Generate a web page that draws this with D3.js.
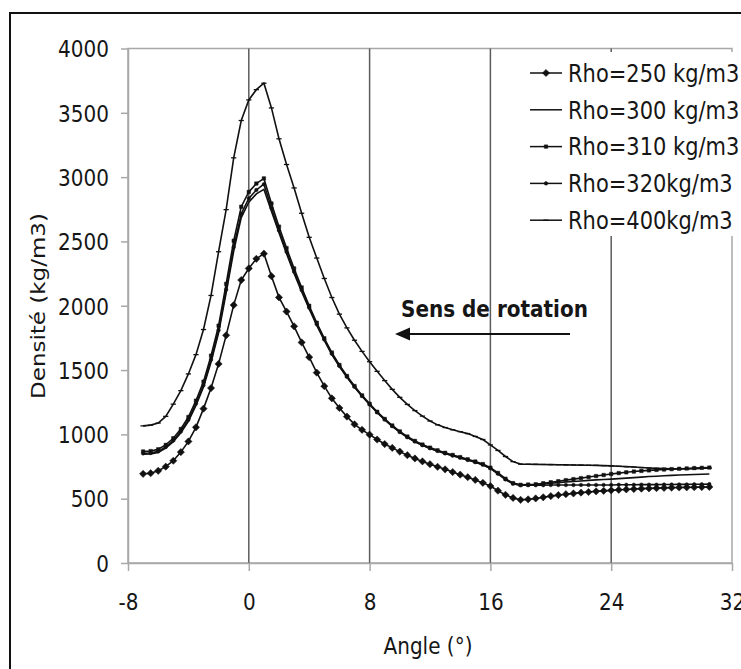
<!DOCTYPE html>
<html>
<head>
<meta charset="utf-8">
<script src="https://cdn.jsdelivr.net/npm/d3@7"></script>
<style>
  body { margin: 0; background: #fff; }
  text { font-family: "DejaVu Sans", Verdana, sans-serif; fill: #161616; }
</style>
</head>
<body>
<div id="chart"></div>
<script>
// ----------------------
// Data (one value every 0.5 degree from -7 to 30.5)
// ----------------------
const angles = d3.range(-7, 30.51, 0.5);

const rho250 = [693, 698, 717, 749, 795, 862, 945, 1055, 1200, 1360, 1548, 1770, 2005, 2200, 2290, 2365, 2405,
  2230, 2065, 1955, 1840, 1715, 1600, 1480, 1375, 1280, 1205, 1138, 1078, 1035, 998, 960, 925, 895, 866, 838,
  813, 790, 768, 748, 728, 707, 687, 667, 646, 623, 598, 562, 530, 506, 491, 495,
  502, 511, 520, 528, 535, 541, 547, 552, 557, 561, 565, 569, 572, 575, 578, 580, 582, 584, 586, 587, 588, 589, 590, 591];

const rho300 = [845, 848, 860, 893, 943, 1012, 1102, 1225, 1368, 1563, 1790, 2100, 2425, 2685, 2805, 2870, 2905,
  2735, 2568, 2405, 2252, 2110, 1975, 1848, 1730, 1621, 1527, 1444, 1367, 1296, 1232, 1170, 1114, 1063, 1017, 977,
  943, 915, 891, 870, 851, 834, 817, 800, 783, 763, 735, 693, 649, 616, 605, 607,
  610, 615, 620, 625, 630, 634, 638, 642, 646, 649, 652, 656, 660, 664, 668, 672, 675, 678, 681, 684, 686, 688, 690, 692];

const rho310 = [867, 870, 884, 918, 970, 1042, 1135, 1262, 1410, 1612, 1845, 2170, 2505, 2770, 2885, 2950, 2990,
  2795, 2615, 2448, 2290, 2142, 2000, 1868, 1747, 1636, 1540, 1454, 1376, 1303, 1238, 1176, 1120, 1069, 1023, 983,
  949, 921, 897, 876, 857, 840, 823, 806, 789, 769, 741, 700, 655, 621, 608, 610,
  612, 620, 628, 636, 644, 652, 660, 668, 676, 684, 692, 699, 705, 711, 716, 720, 724, 727, 730, 733, 735, 738, 740, 742];

const rho320 = [852, 855, 868, 902, 952, 1022, 1114, 1238, 1382, 1580, 1810, 2125, 2455, 2715, 2835, 2900, 2945,
  2760, 2585, 2420, 2265, 2122, 1985, 1856, 1737, 1627, 1532, 1448, 1370, 1298, 1233, 1171, 1115, 1064, 1018, 978,
  944, 916, 892, 871, 852, 835, 818, 801, 784, 764, 736, 694, 650, 616, 604, 605,
  605, 605, 606, 606, 606, 606, 607, 607, 607, 607, 607, 608, 608, 608, 609, 609, 609, 610, 610, 611, 611, 612, 612, 613];

const rho400 = [1066, 1072, 1088, 1140, 1235, 1340, 1470, 1620, 1815, 2080, 2420, 2747, 3150, 3440, 3600, 3680, 3730,
  3538, 3298, 3098, 2916, 2719, 2532, 2371, 2212, 2064, 1935, 1828, 1732, 1645, 1565, 1490, 1418, 1350, 1288, 1233,
  1185, 1142, 1104, 1074, 1053, 1036, 1021, 1006, 984, 960, 918, 875, 828, 788, 769, 768,
  767, 766, 765, 764, 763, 762, 761, 760, 759, 757, 755, 752, 749, 746, 742, 739, 736, 734, 732, 731, 732, 734, 736, 738];

const seriesNames = ["Rho=250 kg/m3", "Rho=300 kg/m3", "Rho=310 kg/m3", "Rho=320kg/m3", "Rho=400kg/m3"];
const seriesMarkers = ["diamond", "none", "square", "dot", "dash"];
const seriesValues = [rho250, rho300, rho310, rho320, rho400];

const xTicks = [-8, 0, 8, 16, 24, 32];
const xGrid = [0, 8, 16, 24];
const yTicks = [0, 500, 1000, 1500, 2000, 2500, 3000, 3500, 4000];

// ----------------------
// Setup
// ----------------------
const width = 741, height = 669;
const plot = { left: 128, right: 732, top: 48.5, bottom: 563 };
const stretch = 1.15; // the picture's text is a little taller than wide

const svg = d3.select("#chart")
    .append("svg")
    .attr("width", width)
    .attr("height", height);

const x = d3.scaleLinear().domain([-8, 32]).range([plot.left, plot.right]);
const y = d3.scaleLinear().domain([0, 4000]).range([plot.bottom, plot.top]);

// plain "-8" / "4000" labels, no thousands separator
const plainFormat = d => String(d);

// outer chart border
svg.append("rect")
    .attr("x", 10).attr("y", 13)
    .attr("width", 780).attr("height", 700)
    .attr("fill", "none")
    .attr("stroke", "#111")
    .attr("stroke-width", 2);

// plot frame
svg.append("rect")
    .attr("x", plot.left).attr("y", plot.top)
    .attr("width", plot.right - plot.left)
    .attr("height", plot.bottom - plot.top)
    .attr("fill", "none")
    .attr("stroke", "#a8a8a8")
    .attr("stroke-width", 1.5);

// vertical grid lines
svg.append("g")
    .selectAll("line")
    .data(xGrid)
    .join("line")
    .attr("x1", d => x(d)).attr("x2", d => x(d))
    .attr("y1", plot.top).attr("y2", plot.bottom)
    .attr("stroke", "#5c5c5c")
    .attr("stroke-width", 1.5);

// ----------------------
// Axes
// ----------------------
const yAxis = svg.append("g")
    .attr("transform", `translate(${plot.left},0)`)
    .call(d3.axisLeft(y).tickValues(yTicks).tickFormat(plainFormat).tickSize(7).tickSizeOuter(0));

yAxis.selectAll("text")
    .attr("x", 0)
    .attr("dy", "0.36em")
    .attr("transform", `translate(-19,0) scale(1,${stretch})`)
    .style("font-size", "20px");

const xAxis = svg.append("g")
    .attr("transform", `translate(0,${plot.bottom})`)
    .call(d3.axisBottom(x).tickValues(xTicks).tickFormat(plainFormat).tickSize(8).tickSizeOuter(0));

xAxis.selectAll("text")
    .attr("y", 0)
    .attr("dy", "0.36em")
    .attr("transform", `translate(0,39) scale(1,${stretch})`)
    .style("font-size", "20px");

svg.selectAll(".domain").attr("stroke", "#a8a8a8").attr("stroke-width", 1.5);
svg.selectAll(".tick line").attr("stroke", "#a8a8a8").attr("stroke-width", 1.5);
svg.selectAll(".tick text").attr("fill", "#161616").attr("font-family", null);

// axis titles
svg.append("text")
    .attr("text-anchor", "middle")
    .attr("dy", "0.36em")
    .attr("transform", `translate(428,646) scale(1,${stretch})`)
    .style("font-size", "20px")
    .text("Angle (°)");

svg.append("text")
    .attr("text-anchor", "middle")
    .attr("dy", "0.36em")
    .attr("transform", `translate(38,306) rotate(-90) scale(${stretch},1)`)
    .style("font-size", "20px")
    .text("Densité (kg/m3)");

// ----------------------
// Series
// ----------------------
const line = d3.line()
    .x((d, i) => x(angles[i]))
    .y(d => y(d));

function markerPath(type) {
    if (type === "diamond") return d3.symbol(d3.symbolSquare, 26)();
    if (type === "square") return d3.symbol(d3.symbolSquare, 12)();
    if (type === "dot") return d3.symbol(d3.symbolCircle, 10)();
    if (type === "dash") return "M-2.6,0H2.6";
    return null;
}

function drawMarkers(g, type, points) {
    if (type === "none") return;
    g.selectAll("path")
        .data(points)
        .join("path")
        .attr("d", markerPath(type))
        .attr("transform", d => `translate(${d[0]},${d[1]})` + (type === "diamond" ? " rotate(45)" : ""))
        .attr("fill", type === "dash" ? "none" : "#111")
        .attr("stroke", "#111")
        .attr("stroke-width", type === "dash" ? 1.3 : 0.5);
}

seriesValues.forEach((vals, k) => {
    svg.append("path")
        .datum(vals)
        .attr("d", line)
        .attr("fill", "none")
        .attr("stroke", "#111")
        .attr("stroke-width", 1.6);

    const pts = vals.map((v, i) => [x(angles[i]), y(v)]);
    drawMarkers(svg.append("g"), seriesMarkers[k], pts);
});

// ----------------------
// Legend (white box, no border)
// ----------------------
svg.append("rect")
    .attr("x", 518).attr("y", 52)
    .attr("width", 223).attr("height", 184)
    .attr("fill", "#fff");

const legend = svg.append("g")
    .selectAll("g")
    .data(seriesNames)
    .join("g")
    .attr("transform", (d, i) => `translate(530,${73 + i * 36.8})`);

legend.append("line")
    .attr("x1", 0).attr("x2", 32)
    .attr("stroke", "#111")
    .attr("stroke-width", 1.5);

legend.each(function (d, i) {
    drawMarkers(d3.select(this).append("g"), seriesMarkers[i], [[16, 0]]);
});

legend.append("text")
    .attr("dy", "0.36em")
    .attr("transform", `translate(38,0) scale(1,${stretch})`)
    .style("font-size", "21px")
    .text(d => d);

// ----------------------
// Annotation: direction of rotation
// ----------------------
svg.append("text")
    .attr("dy", "0.36em")
    .attr("transform", `translate(401,309) scale(1,${stretch})`)
    .style("font-size", "20px")
    .style("font-weight", "bold")
    .text("Sens de rotation");

svg.append("line")
    .attr("x1", 570).attr("x2", 405)
    .attr("y1", 334).attr("y2", 334)
    .attr("stroke", "#111")
    .attr("stroke-width", 2);

svg.append("path")
    .attr("d", "M395,334L410,327.5L410,340.5Z")
    .attr("fill", "#111");
</script>
</body>
</html>
